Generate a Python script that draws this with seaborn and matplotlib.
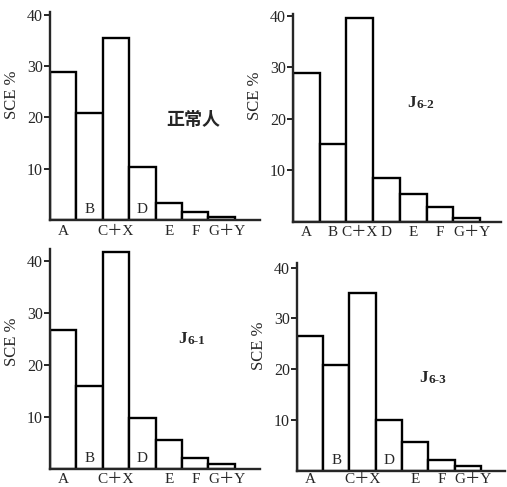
import matplotlib
matplotlib.use("Agg")
import matplotlib.pyplot as plt
import seaborn as sns

# chromosome groups (x categories)
groups = ["A", "B", "C＋X", "D", "E", "F", "G＋Y"]

# SCE % per group
sce_normal = [28.8, 20.8, 35.5, 10.3, 3.3, 1.5, 0.6]   # 正常人
sce_j62 = [28.9, 15.0, 39.5, 8.5, 5.3, 2.9, 0.7]       # J6-2
sce_j61 = [26.8, 16.0, 41.8, 9.8, 5.6, 2.1, 1.0]       # J6-1
sce_j63 = [26.6, 20.9, 35.0, 9.9, 5.7, 2.1, 1.0]       # J6-3

yticks = [10, 20, 30, 40]

sns.set_style("ticks")
plt.rcParams["font.family"] = ["Liberation Serif", "Noto Sans CJK SC"]

W, H = 507, 487
fig = plt.figure(figsize=(W / 100, H / 100), dpi=100)

# panel layout in pixels: left, right, y of zero, px per unit, ylim top, xlim right,
# baseline of the group names below the axis (px under zero)
panels = [
    dict(vals=sce_normal, left=50, right=260, zero=220, ppu=5.13, top=40.6, xr=7.45,
         inside=["B", "D"], lab_off=15),
    dict(vals=sce_j62, left=293, right=501, zero=221.7, ppu=5.15, top=40.3, xr=7.29,
         inside=[], lab_off=14.5),
    dict(vals=sce_j61, left=50, right=260, zero=469.3, ppu=5.2, top=42.3, xr=7.45,
         inside=["B", "D"], lab_off=13.5),
    dict(vals=sce_j63, left=296.7, right=505, zero=470.7, ppu=5.08, top=40.8, xr=7.42,
         inside=["B", "D"], lab_off=12.5),
]

axes = []
for p in panels:
    h = p["top"] * p["ppu"]
    ax = fig.add_axes([p["left"] / W, 1 - p["zero"] / H,
                       (p["right"] - p["left"]) / W, h / H])
    sns.barplot(x=groups, y=p["vals"], color="white", saturation=1,
                edgecolor="black", linewidth=1.7, width=1, ax=ax)
    ax.set_xlim(-0.5, p["xr"])
    ax.set_ylim(0, p["top"])
    sns.despine(ax=ax)
    for s in ["left", "bottom"]:
        ax.spines[s].set_linewidth(1.7)
    ax.set_yticks(yticks)
    ax.set_yticklabels([str(t) for t in yticks], fontsize=11.5)
    ax.tick_params(axis="y", direction="out", length=4, width=1.4, pad=1)
    ax.set_xticks([])
    ax.set_xlabel("")
    ax.set_ylabel("SCE %", fontsize=12, labelpad=0)
    ax.yaxis.set_label_coords(-30 / (p["right"] - p["left"]), 24.5 / p["top"])

    # group names: below the axis, some inside the bar bottoms
    for i, g in enumerate(groups):
        dx = 0.2 if g == "G＋Y" else 0.0
        if g in p["inside"]:
            ax.text(i, 4.0 / p["ppu"], g, ha="center", va="bottom", fontsize=11)
        else:
            ax.text(i + dx, -p["lab_off"] / p["ppu"], g, ha="center", va="baseline",
                    fontsize=11, clip_on=False)
    axes.append(ax)

# panel titles
axes[0].text(4.92, 19.5, "正常人", ha="center", va="center", fontsize=13,
             family=["Noto Sans CJK SC"], fontweight="bold")


def strain_label(ax, x, y, sub):
    ax.text(x, y, "J", ha="right", va="baseline", fontsize=12.5, fontweight="bold")
    ax.annotate(sub, xy=(x, y), xycoords="data", xytext=(0.3, -1),
                textcoords="offset points", ha="left", va="baseline",
                fontsize=9.5, fontweight="bold")


strain_label(axes[1], 4.1, 22.3, "6-2")
strain_label(axes[2], 4.69, 24.3, "6-1")
strain_label(axes[3], 4.49, 17.5, "6-3")

fig.savefig("out.png", dpi=100)
